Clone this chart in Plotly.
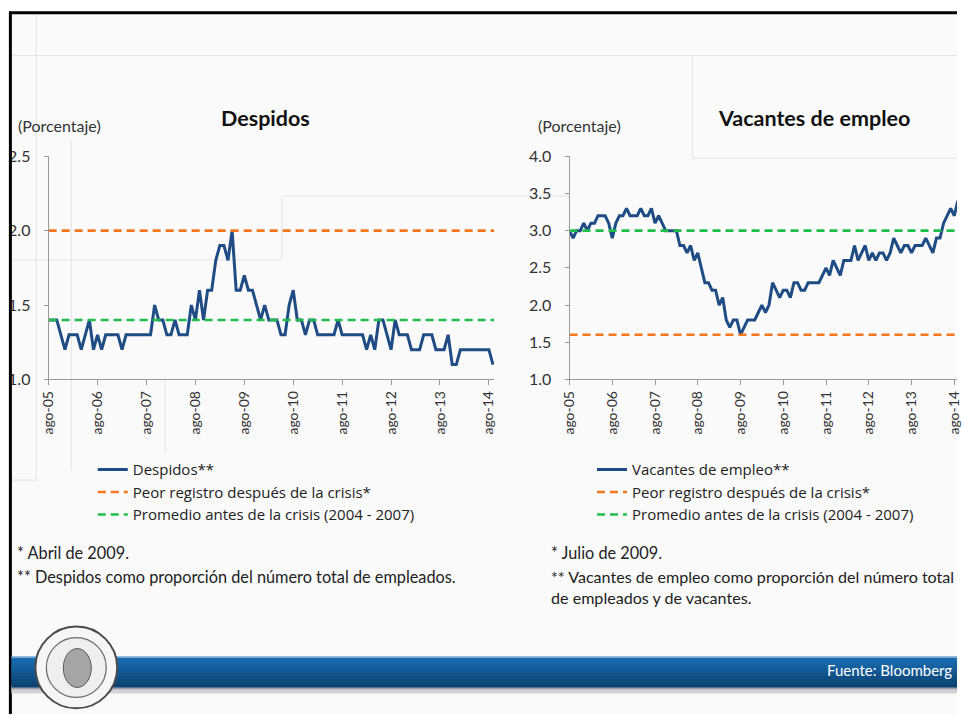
import plotly.graph_objects as go

W, H = 962, 723

# ---------------- data ----------------
tick_labels = ["ago-05", "ago-06", "ago-07", "ago-08", "ago-09",
               "ago-10", "ago-11", "ago-12", "ago-13", "ago-14"]

despidos = [1.4, 1.4, 1.4, 1.3, 1.2, 1.3, 1.3, 1.3, 1.2, 1.3,
            1.4, 1.2, 1.3, 1.2, 1.3, 1.3, 1.3, 1.3, 1.2, 1.3,
            1.3, 1.3, 1.3, 1.3, 1.3, 1.3, 1.5, 1.4, 1.4, 1.3,
            1.3, 1.4, 1.3, 1.3, 1.3, 1.5, 1.4, 1.6, 1.4, 1.6,
            1.6, 1.8, 1.9, 1.9, 1.8, 2.0, 1.6, 1.6, 1.7, 1.6,
            1.6, 1.5, 1.4, 1.5, 1.4, 1.4, 1.4, 1.3, 1.3, 1.5,
            1.6, 1.4, 1.4, 1.3, 1.4, 1.4, 1.3, 1.3, 1.3, 1.3,
            1.3, 1.4, 1.3, 1.3, 1.3, 1.3, 1.3, 1.3, 1.2, 1.3,
            1.2, 1.4, 1.4, 1.3, 1.2, 1.4, 1.3, 1.3, 1.3, 1.2,
            1.2, 1.2, 1.3, 1.3, 1.3, 1.2, 1.2, 1.2, 1.3, 1.1,
            1.1, 1.2, 1.2, 1.2, 1.2, 1.2, 1.2, 1.2, 1.2, 1.1]

vacantes = [3.0, 2.9, 3.0, 3.0, 3.1, 3.0, 3.1, 3.1, 3.2, 3.2,
            3.2, 3.1, 2.9, 3.1, 3.2, 3.2, 3.3, 3.2, 3.2, 3.2,
            3.3, 3.2, 3.2, 3.3, 3.1, 3.2, 3.1, 3.0, 3.0, 3.0,
            3.0, 2.8, 2.8, 2.7, 2.8, 2.6, 2.7, 2.5, 2.3, 2.3,
            2.2, 2.2, 2.0, 2.1, 1.8, 1.7, 1.8, 1.8, 1.6, 1.7,
            1.8, 1.8, 1.8, 1.9, 2.0, 1.9, 2.0, 2.3, 2.2, 2.1,
            2.2, 2.2, 2.1, 2.3, 2.3, 2.2, 2.2, 2.3, 2.3, 2.3,
            2.3, 2.4, 2.5, 2.4, 2.6, 2.5, 2.4, 2.6, 2.6, 2.6,
            2.8, 2.6, 2.7, 2.8, 2.6, 2.7, 2.6, 2.7, 2.7, 2.6,
            2.7, 2.9, 2.8, 2.7, 2.8, 2.8, 2.7, 2.8, 2.8, 2.8,
            2.9, 2.8, 2.7, 2.9, 2.9, 3.1, 3.2, 3.3, 3.2, 3.4]

despidos_peor = 2.0
despidos_promedio = 1.4
vacantes_peor = 1.6
vacantes_promedio = 3.0

months = list(range(len(despidos)))          # ago-05 ... sep-14 (monthly)
tick_vals = [12 * i for i in range(len(tick_labels))]

# ---------------- style ----------------
FONT = "Lato, 'Open Sans', sans-serif"
FONT2 = "'Open Sans', Lato, sans-serif"
BLUE = "#1f4c84"
ORANGE = "#f4761f"
GREEN = "#1fbe4c"
DASH = "8px,5px"

# screen placement calibration (figure appears scaled/offset in the captured page)
SX, OX, SY, OY = 0.987, 8.6, 0.977, 8.3


def px(x):
    """screen x (px) -> paper x"""
    return ((x - OX) / SX) / W


def py(y):
    """screen y (px) -> paper y"""
    return 1 - ((y - OY) / SY) / H


SCREEN_RIGHT = SX * W + OX

fig = go.Figure()

x_end_left = months[-1] + 0.3
x_end_right = (SCREEN_RIGHT - 570) / 3.568

# Left chart
fig.add_trace(go.Scatter(x=months, y=despidos, mode="lines", name="Despidos**",
                         line=dict(color=BLUE, width=3), xaxis="x", yaxis="y",
                         legend="legend"))
fig.add_trace(go.Scatter(x=[0, x_end_left], y=[despidos_peor, despidos_peor], mode="lines",
                         name="Peor registro después de la crisis*",
                         line=dict(color=ORANGE, width=2.6, dash=DASH), xaxis="x", yaxis="y",
                         legend="legend"))
fig.add_trace(go.Scatter(x=[0, x_end_left], y=[despidos_promedio, despidos_promedio], mode="lines",
                         name="Promedio antes de la crisis (2004 - 2007)",
                         line=dict(color=GREEN, width=2.6, dash=DASH), xaxis="x", yaxis="y",
                         legend="legend"))

# Right chart
fig.add_trace(go.Scatter(x=months, y=vacantes, mode="lines", name="Vacantes de empleo**",
                         line=dict(color=BLUE, width=3), xaxis="x2", yaxis="y2",
                         legend="legend2"))
fig.add_trace(go.Scatter(x=[0, x_end_right], y=[vacantes_peor, vacantes_peor], mode="lines",
                         name="Peor registro después de la crisis*",
                         line=dict(color=ORANGE, width=2.6, dash=DASH), xaxis="x2", yaxis="y2",
                         legend="legend2"))
fig.add_trace(go.Scatter(x=[0, x_end_right], y=[vacantes_promedio, vacantes_promedio], mode="lines",
                         name="Promedio antes de la crisis (2004 - 2007)",
                         line=dict(color=GREEN, width=2.6, dash=DASH), xaxis="x2", yaxis="y2",
                         legend="legend2"))

xaxis_common = dict(
    tickvals=tick_vals, ticktext=tick_labels, tickangle=-90,
    ticks="outside", ticklen=5, tickcolor="#9a9a9a",
    showline=True, linecolor="#9a9a9a", linewidth=1,
    showgrid=False, zeroline=False, ticklabeloverflow="allow",
    tickfont=dict(family=FONT, size=14, color="#333333"),
)
yaxis_common = dict(
    ticks="outside", ticklen=4, tickcolor="#9a9a9a",
    showline=True, linecolor="#9a9a9a", linewidth=1,
    showgrid=False, zeroline=False, tickformat=".1f", dtick=0.5,
    tickfont=dict(family=FONT, size=16, color="#333333"),
    ticklabelstandoff=10,
)

y_dom = [py(379), py(155)]
fig.update_layout(
    xaxis=dict(domain=[px(48.3), px(48.3 + x_end_left * 4.083)], range=[0, x_end_left],
               anchor="y", **xaxis_common),
    yaxis=dict(domain=y_dom, range=[1.0, 2.5], anchor="x", **yaxis_common),
    xaxis2=dict(domain=[px(570), 1.0], range=[0, x_end_right], anchor="y2", **xaxis_common),
    yaxis2=dict(domain=y_dom, range=[1.0, 4.0], anchor="x2", **yaxis_common),
)

legend_common = dict(
    xanchor="left", yanchor="top", bgcolor="rgba(0,0,0,0)",
    font=dict(family=FONT2, size=15, color="#222222"),
    itemwidth=30, tracegroupgap=0,
)
fig.update_layout(
    legend=dict(x=px(92.5), y=py(453), **legend_common),
    legend2=dict(x=px(592.5), y=py(453), **legend_common),
)

# ---------------- background / decoration ----------------
shapes = []
# slide background
shapes.append(dict(type="rect", xref="paper", yref="paper", x0=px(9), x1=1.0, y0=0, y1=py(11),
                   fillcolor="#fafafa", line=dict(width=0), layer="below"))
# faint ghost lines of the slide
ghost = "#e4e4e4"
for (x0, y0, x1, y1) in [
    (10, 54, 962, 54), (36, 12, 36, 480), (10, 480, 36, 480),
    (71, 140, 71, 470), (165, 380, 165, 452),
    (282, 195, 282, 259), (282, 195, 570, 195), (10, 259, 282, 259),
    (693, 54, 693, 157), (693, 157, 962, 157),
]:
    shapes.append(dict(type="line", xref="paper", yref="paper", x0=px(x0), y0=py(y0),
                       x1=min(1.0, px(x1)), y1=py(y1), line=dict(color=ghost, width=1), layer="below"))
# black frame
shapes.append(dict(type="line", xref="paper", yref="paper", x0=px(8.6), x1=1.0, y0=py(11), y1=py(11),
                   line=dict(color="#000000", width=3)))
shapes.append(dict(type="line", xref="paper", yref="paper", x0=px(10), x1=px(10), y0=py(10), y1=0,
                   line=dict(color="#000000", width=3)))

# blue footer bar (gradient by overlapping bands)
shapes.append(dict(type="rect", xref="paper", yref="paper", x0=px(11), x1=1.0, y0=py(694), y1=py(686),
                   fillcolor="#d4d4d4", line=dict(width=0)))
shapes.append(dict(type="rect", xref="paper", yref="paper", x0=px(11), x1=1.0, y0=py(690), y1=py(686),
                   fillcolor="#9aa3ad", line=dict(width=0)))
band_colors = ["#1a6aae", "#1765a7", "#15609f", "#135a97", "#11548e", "#0f4e85", "#0e497c", "#0c4372"]
top, bottom = 658, 688
step = (bottom - top) / len(band_colors)
for i, c in enumerate(band_colors):
    y_top = top + step * i
    y_bot = min(bottom, top + step * (i + 1) + 1.5)
    shapes.append(dict(type="rect", xref="paper", yref="paper", x0=px(11), x1=1.0,
                       y0=py(y_bot), y1=py(y_top),
                       fillcolor=c, line=dict(width=0)))
shapes.append(dict(type="line", xref="paper", yref="paper", x0=px(11), x1=1.0, y0=py(657.5), y1=py(657.5),
                   line=dict(color="#6fa6d6", width=1.5)))

# logo (simplified seal)
cx, cy, r = 76, 668, 41
shapes.append(dict(type="circle", xref="paper", yref="paper", x0=px(cx - r), x1=px(cx + r),
                   y0=py(cy + r), y1=py(cy - r), fillcolor="#f6f6f6", line=dict(color="#4a4a4a", width=2)))
r2 = 30
shapes.append(dict(type="circle", xref="paper", yref="paper", x0=px(cx - r2), x1=px(cx + r2),
                   y0=py(cy + r2), y1=py(cy - r2), fillcolor="#efefef", line=dict(color="#6a6a6a", width=1.2)))
shapes.append(dict(type="circle", xref="paper", yref="paper", x0=px(cx - 13), x1=px(cx + 15),
                   y0=py(cy + 20), y1=py(cy - 19), fillcolor="#a5a5a5", line=dict(color="#5a5a5a", width=1)))

fig.update_layout(shapes=shapes)

# ---------------- texts ----------------
ann = []


def text(x, y, s, size=14.5, color="#222222", xanchor="left", bold=False, family=FONT):
    ann.append(dict(xref="paper", yref="paper", x=px(x), y=py(y), text=("<b>%s</b>" % s) if bold else s,
                    showarrow=False, xanchor=xanchor, yanchor="middle",
                    font=dict(family=family, size=size, color=color)))


text(265.5, 117, "Despidos", size=21.5, color="#111111", xanchor="center", bold=True)
text(815, 117, "Vacantes de empleo", size=21.5, color="#111111", xanchor="center", bold=True)
text(15.5, 124, "(Porcentaje)", size=16, color="#333333")
text(536.7, 124, "(Porcentaje)", size=16, color="#333333")

text(14.5, 553, "* Abril de 2009.", size=16.3)
text(14.5, 577, "** Despidos como proporción del número total de empleados.", size=16.3)
text(549.5, 553, "* Julio de 2009.", size=16.3)
text(549.5, 577, "** Vacantes de empleo como proporción del número total", size=16.1)
text(549.5, 598, "de empleados y de vacantes.", size=16.1)

text(955, 671, "Fuente: Bloomberg", size=15, color="#ffffff", xanchor="right")

fig.update_layout(
    annotations=ann,
    width=W, height=H,
    margin=dict(l=0, r=0, t=0, b=0),
    paper_bgcolor="#ffffff",
    plot_bgcolor="rgba(0,0,0,0)",
    showlegend=True,
)

fig.write_html(
    "out.html",
    config={"displayModeBar": False},
    post_script="document.body.style.margin='0px';document.body.style.padding='0px';"
                "document.documentElement.style.overflow='hidden';document.body.style.overflow='hidden';",
)
